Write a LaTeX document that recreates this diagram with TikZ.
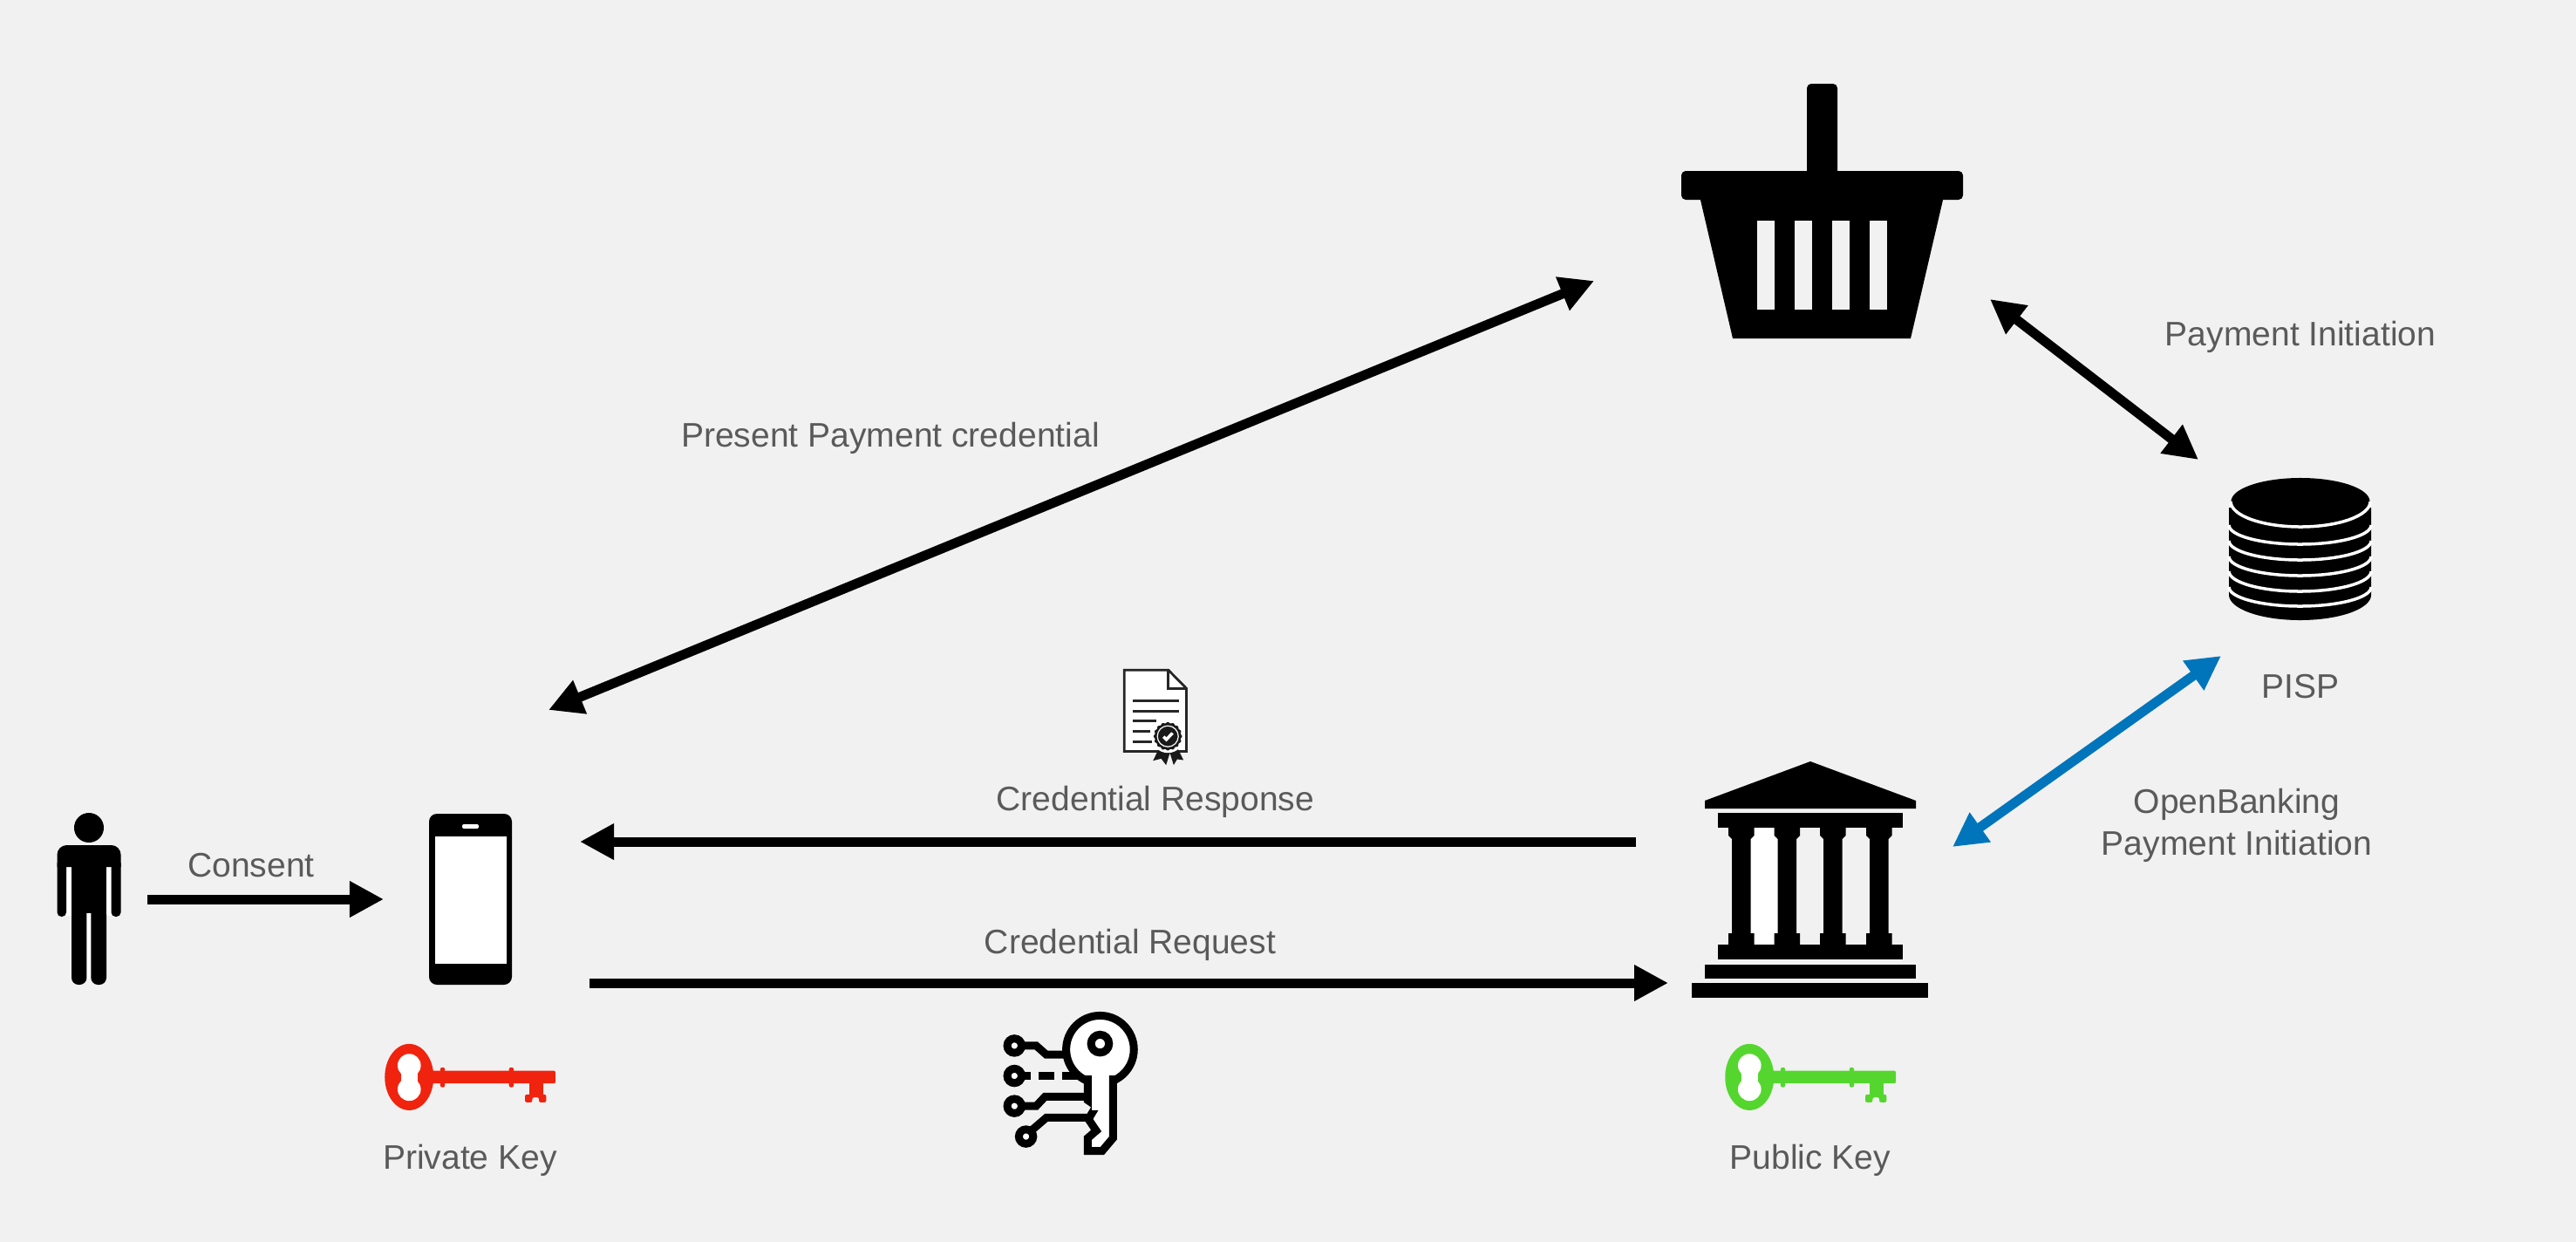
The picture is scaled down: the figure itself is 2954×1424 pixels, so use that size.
\documentclass[tikz,border=0pt]{standalone}
\usepackage{fontspec}
\setmainfont{Liberation Sans}
\usetikzlibrary{arrows.meta}
\definecolor{bgc}{HTML}{F1F1F1}
\definecolor{txtc}{HTML}{5A5A5A}
\definecolor{keyred}{HTML}{F0230E}
\definecolor{keygreen}{HTML}{55D62E}
\definecolor{blueline}{HTML}{0075BB}
\tikzset{
  lbl/.style={text=txtc,font=\fontsize{11.1pt}{14pt}\selectfont,inner sep=0pt,anchor=base},
  conn/.style={line width=0.11cm,draw=black},
  oneway/.style={conn,-{Triangle[length=0.39cm,width=0.39cm]}},
  twoway/.style={conn,{Triangle[length=0.39cm,width=0.39cm]}-{Triangle[length=0.39cm,width=0.39cm]}},
  fineunits/.style={x={(0.0033333cm,0)},y={(0,-0.0033333cm)}},
  circ/.style={line width=0.09cm,draw=black,line cap=butt,line join=miter},
  cert/.style={line width=0.028cm,draw=black!85}
}
\newcommand{\bigkey}[3]{%
  \begin{scope}[shift={(#1,#2)},fineunits]
    \fill[#3] (148,195) ellipse[x radius=0.28cm,y radius=0.38cm];
    \fill[#3,rounded corners=0.02cm] (215,173) -- (652,173) -- (652,217) -- (215,217) -- cycle;
    \fill[#3,rounded corners=0.02cm] (255,162) -- (271,162) -- (271,230) -- (255,230) -- cycle;
    \fill[#3,rounded corners=0.02cm] (492,162) -- (508,162) -- (508,230) -- (492,230) -- cycle;
    \fill[#3] (563,215) -- (610,215) -- (610,255) -- (563,255) -- cycle;
    \fill[#3,rounded corners=0.02cm] (547,255) -- (620,255) -- (620,282) -- (595,282) -- (595,265) -- (572,265) -- (572,282) -- (547,282) -- cycle;
    \fill[white] (148,155) circle[radius=0.133cm];
    \fill[white] (148,237) circle[radius=0.133cm];
    \fill[white] (120,170) rectangle (176,222);
  \end{scope}}
\begin{document}
\begin{tikzpicture}[x=0.01cm,y=-0.01cm]
\useasboundingbox (0,0) rectangle (2954,1424);
\fill[bgc] (0,0) rectangle (2954,1424);

% basket
\fill (2072,200) [rounded corners=0.05cm] -- (2072,96) -- (2107,96) [sharp corners] -- (2107,200) -- cycle;
\fill[rounded corners=0.05cm] (1928,196) -- (2251,196) -- (2251,229) -- (1928,229) -- cycle;
\fill (1949,225) -- (2229,225) -- (2191,388) -- (1987,388) -- cycle;
\foreach \sx in {2015,2058,2101,2144}
  \fill[bgc] (\sx,253) rectangle ++(19.5,102);

% coins
\fill (2556,582) -- (2556,682) arc[start angle=180,end angle=360,x radius=0.815cm,y radius=0.29cm] -- (2719,582) -- cycle;
\foreach \ey/\ry in {602/0.22,620/0.22,638/0.22,655/0.23,673/0.22}
  \draw[white,line width=0.035cm] (2556,\ey) arc[start angle=180,end angle=360,x radius=0.815cm,y radius=\ry cm];
\fill[bgc] (2552,570) rectangle (2723,582);
\fill (2638,575) ellipse[x radius=0.795cm,y radius=0.27cm];
\draw[white,line width=0.035cm] (2558,575) arc[start angle=180,end angle=360,x radius=0.80cm,y radius=0.29cm];

% bank
\fill (2076,873) -- (2197,918) -- (2197,927) -- (1955,927) -- (1955,918) -- cycle;
\fill (1970,932) rectangle (2182,949);
\fill[white] (2007,949) rectangle (2038.5,1083);
\foreach \cl in {1986,2038.5,2091,2144}
  \fill (\cl-4,949) -- (\cl+25.5,949) -- (\cl+25.5,958) -- (\cl+21.5,962) -- (\cl+21.5,1070) -- (\cl+25.5,1070) -- (\cl+25.5,1083) -- (\cl-4,1083) -- (\cl-4,1070) -- (\cl,1070) -- (\cl,962) -- (\cl-4,958) -- cycle;
\fill (1970,1083) rectangle (2182,1100);
\fill (1955,1106) rectangle (2197,1122);
\fill (1940,1127) rectangle (2211,1144);

% person
\fill[white] (76,994) rectangle (127.5,1050);
\fill[white] (99,1040) rectangle (104.5,1122);
\fill[black] (102,949) ellipse[x radius=0.17cm,y radius=0.17cm];
\fill (65.5,994) [rounded corners=0.11cm] -- (65.5,969) -- (138.6,969) [sharp corners] -- (138.6,994) -- cycle;
\fill[rounded corners=0.05cm] (65.5,985) -- (76,985) -- (76,1051) -- (65.5,1051) -- cycle;
\fill[rounded corners=0.05cm] (127.5,985) -- (138.6,985) -- (138.6,1051) -- (127.5,1051) -- cycle;
\fill (82,985) rectangle (122,1047);
\fill[rounded corners=0.08cm] (82,1040) -- (99.4,1040) -- (99.4,1129) -- (82,1129) -- cycle;
\fill[rounded corners=0.08cm] (104.3,1040) -- (122,1040) -- (122,1129) -- (104.3,1129) -- cycle;

% phone
\fill[rounded corners=0.09cm] (492,933) -- (587,933) -- (587,1129) -- (492,1129) -- cycle;
\fill[white] (498.6,959) rectangle (581,1105);
\fill[white,rounded corners=0.02cm] (530,945) -- (549,945) -- (549,950) -- (530,950) -- cycle;

% keys
\bigkey{420}{1170}{keyred}
\bigkey{1957}{1170}{keygreen}

% certificate
\begin{scope}[shift={(1260,750)},fineunits]
  \draw[cert,fill=white,line join=miter] (88,55) -- (240,55) -- (302,118) -- (302,335) -- (88,335) -- cycle;
  \draw[cert,line join=miter] (240,55) -- (240,118) -- (302,118);
  \foreach \ly/\lx in {160/275,196/275,231/197,266/177,303/183}
    \draw[cert] (118,\ly) -- (\lx,\ly);
  \fill[black!90] (205,330) -- (187,367) -- (215,360) -- (232,382) -- (245,340) -- (258,382) -- (270,362) -- (292,365) -- (272,325) -- cycle;
  \fill[white] (238,283) circle[radius=0.19cm];
  \fill[black!90] plot[domain=0:360,samples=145,smooth] ({238+(47+2*cos(16*\x))*cos(\x)},{283+(47+2*cos(16*\x))*sin(\x)}) -- cycle;
  \draw[white,line width=0.012cm] (238,283) circle[radius=0.12cm];
  \draw[white,line width=0.035cm] (223,284) -- (233,294) -- (254,272);
\end{scope}

% circuit key
\begin{scope}[shift={(1120,1140)},fineunits]
  \draw[circ,fill=white] (425,190) circle[radius=0.388cm];
  \draw[circ,fill=white] (383,280) -- (383,365) -- (412,385) -- (385,430) -- (412,470) -- (383,495) -- (383,540) -- (432,540) -- (470,495) -- (470,280);
  \fill[white] (398,270) -- (455,270) -- (455,400) -- (398,400) -- cycle;
  \draw[circ,fill=white] (425,170) circle[radius=0.103cm];
  \draw[circ] (165,177) -- (205,177) -- (240,208) -- (300,208);
  \draw[circ] (165,282) -- (185,282);
  \draw[circ] (212,282) -- (268,282);
  \draw[circ] (295,282) -- (345,282);
  \draw[circ] (165,385) -- (205,385) -- (235,353) -- (372,353);
  \draw[circ] (190,468) -- (240,425) -- (385,425);
  \draw[circ,fill=white] (130,177) circle[radius=0.082cm];
  \draw[circ,fill=white] (130,281) circle[radius=0.082cm];
  \draw[circ,fill=white] (130,385) circle[radius=0.082cm];
  \draw[circ,fill=white] (170,490) circle[radius=0.082cm];
\end{scope}

% connector ends
\coordinate (personOut) at (169,1031);
\coordinate (phoneIn) at (440,1031);
\coordinate (phoneTop) at (629,814);
\coordinate (basketLeft) at (1828,322);
\coordinate (basketRight) at (2282,343);
\coordinate (pispTop) at (2521,527);
\coordinate (pispLow) at (2547,752);
\coordinate (bankRight) at (2239,971);
\coordinate (bankResp) at (1876,965);
\coordinate (phoneResp) at (665,965);
\coordinate (phoneReq) at (676,1127);
\coordinate (bankReq) at (1913,1127);

\draw[oneway] (personOut) -- (phoneIn);
\draw[twoway] (phoneTop) -- (basketLeft);
\draw[twoway] (basketRight) -- (pispTop);
\draw[twoway,draw=blueline,blueline] (pispLow) -- (bankRight);
\draw[oneway] (bankResp) -- (phoneResp);
\draw[oneway] (phoneReq) -- (bankReq);

% labels
\node[lbl] (tConsent) at (288,1005) {Consent};
\node[lbl] (tPresent) at (1021,512) {Present Payment credential};
\node[lbl] (tResp) at (1325,929) {Credential Response};
\node[lbl] (tReq) at (1296,1093) {Credential Request};
\node[lbl] (tInit) at (2638,396) {Payment Initiation};
\node[lbl] (tPisp) at (2638,800) {PISP};
\node[lbl] (tOB) at (2565,932) {OpenBanking};
\node[lbl] (tOB2) at (2565,980) {Payment Initiation};
\node[lbl] (tPriv) at (539,1340) {Private Key};
\node[lbl] (tPub) at (2076,1340) {Public Key};
\end{tikzpicture}
\end{document}
